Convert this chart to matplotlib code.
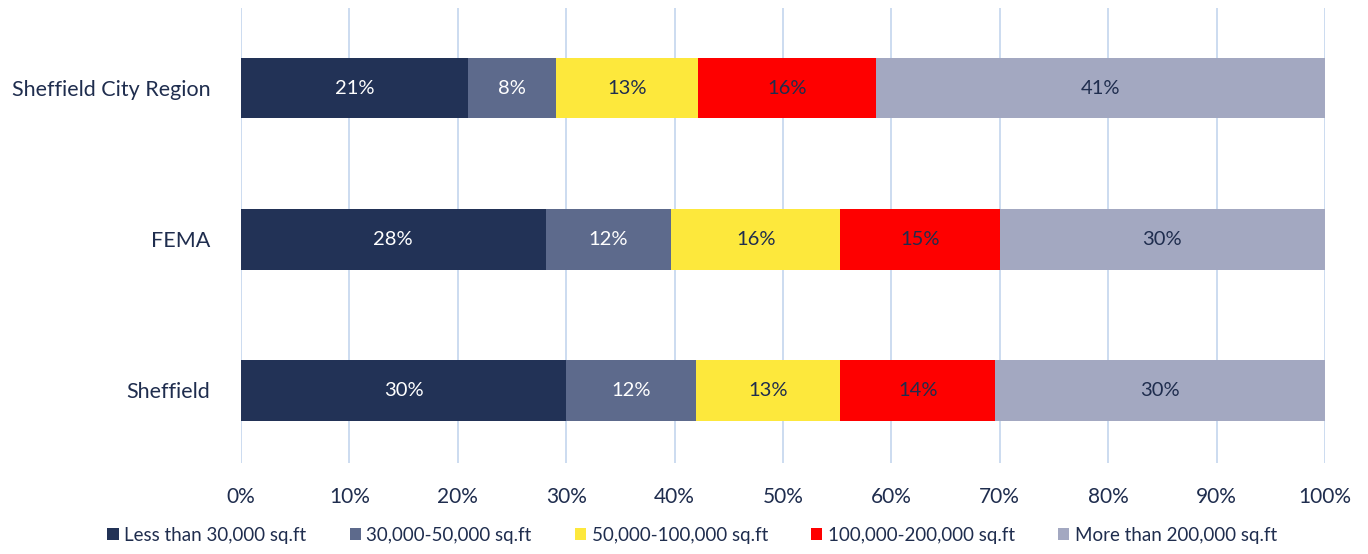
import matplotlib
matplotlib.use("Agg")
import matplotlib.pyplot as plt
import numpy as np

# Share of floorspace by unit size band, per area
areas = ["Sheffield", "FEMA", "Sheffield City Region"]
bands = ["Less than 30,000 sq.ft", "30,000-50,000 sq.ft", "50,000-100,000 sq.ft",
         "100,000-200,000 sq.ft", "More than 200,000 sq.ft"]
less_30k = [30.0, 28.1, 20.9]
k30_50 = [12.0, 11.6, 8.2]
k50_100 = [13.3, 15.6, 13.1]
k100_200 = [14.3, 14.7, 16.4]
more_200k = [30.4, 30.0, 41.4]
x_ticks = [0, 10, 20, 30, 40, 50, 60, 70, 80, 90, 100]

series = [less_30k, k30_50, k50_100, k100_200, more_200k]
colors = ["#223256", "#5d6a8c", "#fde83c", "#fe0000", "#a3a8c1"]
text_colors = ["white", "white", "#1f2d4e", "#1f2d4e", "#1f2d4e"]

plt.rcParams["font.family"] = ["Lato", "DejaVu Sans"]

fig = plt.figure(figsize=(13.68, 5.54), dpi=100)
ax = fig.add_axes([241 / 1368, 1 - 463 / 554, (1325 - 241) / 1368, (463 - 8) / 554])

y = np.arange(len(areas))
left = np.zeros(len(areas))
for vals, col, tcol, name in zip(series, colors, text_colors, bands):
    vals = np.array(vals)
    ax.barh(y, vals, left=left, height=0.4, color=col, label=name, zorder=3)
    for yi, l, v in zip(y, left, vals):
        ax.text(l + v / 2, yi, f"{v:.0f}%", ha="center", va="center",
                color=tcol, fontsize=14.5, zorder=4)
    left += vals

ax.set_xlim(0, 100)
ax.set_ylim(-0.48, 2.53)
ax.set_xticks(x_ticks)
ax.set_xticklabels([f"{t}%" for t in x_ticks], fontsize=15, color="#1f2d4e")
ax.set_yticks(y)
ax.set_yticklabels(areas, fontsize=15.5, color="#1f2d4e")
ax.tick_params(axis="both", length=0)
ax.tick_params(axis="x", pad=17)
ax.tick_params(axis="y", pad=22)
for s in ax.spines.values():
    s.set_visible(False)
ax.grid(axis="x", color="#c3d5ee", linewidth=1.2, zorder=0)
ax.set_axisbelow(True)

handles, labels = ax.get_legend_handles_labels()
fig.legend(handles, labels, loc="lower center", bbox_to_anchor=(0.506, -0.012), ncol=5,
           frameon=False, fontsize=13.5, handlelength=0.6, handleheight=0.6,
           handletextpad=0.3, columnspacing=2.3, labelcolor="#1f2d4e")

fig.savefig("out.png", dpi=100)
